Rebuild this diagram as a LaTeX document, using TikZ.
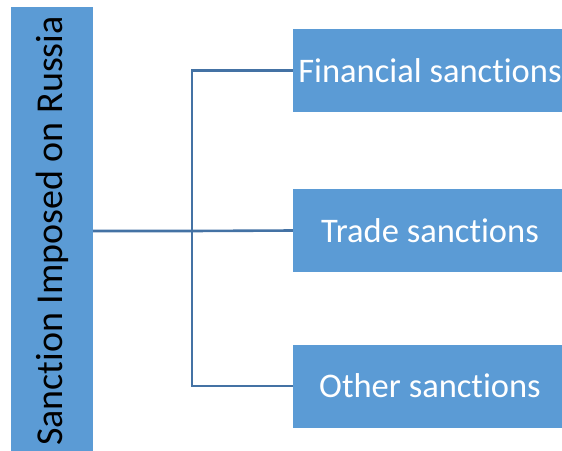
\documentclass[tikz,border=0pt]{standalone}
\usepackage{fontspec}
\setmainfont{Carlito}[Ligatures={NoCommon}]
\usepackage{xcolor}
\usetikzlibrary{positioning}
\definecolor{boxblue}{RGB}{91,155,213}
\definecolor{wireblue}{RGB}{68,114,164}
\tikzset{
  wire/.style={line width=2.6pt,draw=wireblue},
  sanction/.style={fill=boxblue,draw=none,inner sep=0pt,text=white,font=\fontsize{34.5}{40}\selectfont,minimum width=274pt,minimum height=83pt},
  titlebar/.style={fill=boxblue,draw=none,inner sep=0pt,text=black,font=\fontsize{38}{44}\selectfont,rotate=90,minimum width=448pt,minimum height=82pt}
}
\begin{document}
\begin{tikzpicture}[x=1pt,y=-1pt]
  \useasboundingbox (0,0) rectangle (562,450);
  \begin{scope}
  \clip (0,0) rectangle (562,450);
  \node[titlebar] (russia) at (52,231) {Sanction Imposed on Russia};
  \node[sanction] (fin) at (430,70.5) {Financial sanctions};
  \node[sanction] (trade) at (430,230.5) {Trade sanctions};
  \node[sanction] (other) at (430,386) {Other sanctions};
  \coordinate (split) at (192,231);
  \draw[wire] (russia.south) -- (split) -- (trade.west);
  \draw[wire] (fin.west) -| (split) |- (other.west);
  \end{scope}
\end{tikzpicture}
\end{document}
